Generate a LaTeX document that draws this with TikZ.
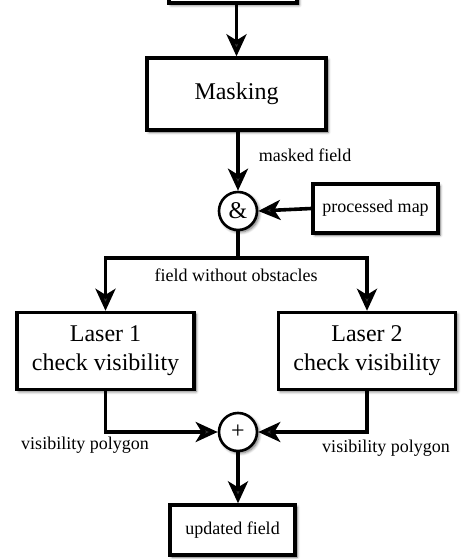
\documentclass[tikz,border=0pt]{standalone}
\usepackage{fontspec}
\setmainfont{Liberation Serif}
\usetikzlibrary{arrows.meta,shadows.blur}
\begin{document}
\begin{tikzpicture}[x=1pt,y=-1pt,
  shad/.style={blur shadow={shadow xshift=2pt,shadow yshift=-2pt,shadow blur steps=6,shadow blur radius=3pt,shadow opacity=60}},
  box/.style={draw,line width=3.4pt,fill=white,inner sep=0pt,align=center,font=\fontsize{24}{29}\selectfont,shad},
  sbox/.style={draw,line width=3.4pt,fill=white,inner sep=0pt,align=center,font=\fontsize{18}{22}\selectfont,shad},
  op/.style={draw,circle,line width=2.6pt,fill=white,inner sep=0pt,minimum size=38pt,font=\fontsize{24}{29}\selectfont,shad},
  lbl/.style={font=\fontsize{18}{22}\selectfont,inner sep=0pt},
  conn/.style={line width=3.6pt,-{Stealth[length=22pt,width=20pt,inset=6pt,fill=black!80]}},
  plain/.style={line width=3.6pt}]
\useasboundingbox (0,0) rectangle (474,559);
\node[box,minimum width=128pt,minimum height=60pt] (top) at (233,-27) {};
\node[box,minimum width=179pt,minimum height=72pt] (mask) at (236.5,94) {Masking};
\node[op] (amp) at (238,211) {\&};
\node[sbox,minimum width=125pt,minimum height=49pt] (pm) at (375.5,208.5) {processed map};
\node[box,minimum width=177pt,minimum height=77pt] (l1) at (105.5,351) {Laser 1\\check visibility};
\node[box,minimum width=177pt,minimum height=77pt] (l2) at (367,351) {Laser 2\\check visibility};
\node[op] (plus) at (238,432) {+};
\node[sbox,minimum width=125pt,minimum height=50pt] (uf) at (232.5,530) {updated field};
\coordinate (j) at (238,258);

\draw[conn] (top.south -| mask.north) -- (mask.north);
\draw[conn] (mask.south -| amp.north) -- (amp.north);
\draw[conn] (pm.west) -- (amp.east);
\draw[plain] (amp.south) -- (j);
\draw[conn] (j) -| (l1.north);
\draw[conn] (j) -| (l2.north);
\draw[conn] (l1.south) |- (plus.west);
\draw[conn] (l2.south) |- (plus.east);
\draw[conn] (plus.south) -- (plus.south |- uf.north);

\node[lbl] (lmf) at (305,155) {masked field};
\node[lbl] (lfo) at (236,275) {field without obstacles};
\node[lbl] (lv1) at (85,445) {visibility polygon};
\node[lbl] (lv2) at (386,448) {visibility polygon};
\end{tikzpicture}
\end{document}
